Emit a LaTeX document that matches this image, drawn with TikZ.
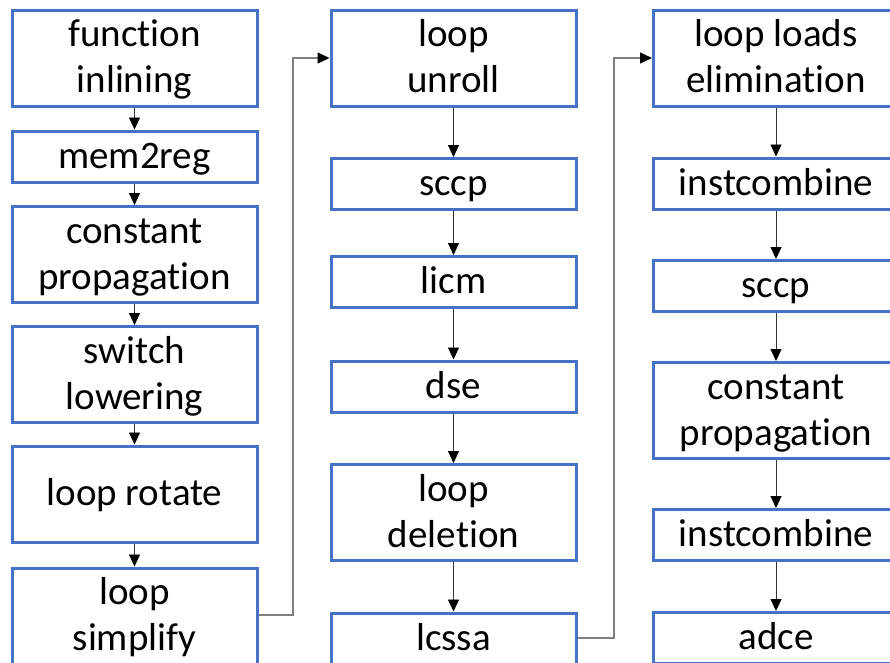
\documentclass[tikz,border=0pt]{standalone}
\usepackage{fontspec}
\setmainfont[Ligatures=CommonOff]{Carlito}
\usetikzlibrary{arrows.meta}
\definecolor{passblue}{HTML}{4472C4}
\definecolor{linkgray}{HTML}{7F7F7F}
% one text line with a fixed height and depth
\newcommand\pline[1]{\rule[-11pt]{0pt}{45pt}#1}
\tikzset{
  pass/.style={draw=passblue, line width=3pt, fill=white, minimum width=245pt,
    inner sep=0pt, align=center, font=\fontsize{39}{46}\selectfont, text=black},
  tall/.style={pass, minimum height=96pt},
  short/.style={pass, minimum height=51pt},
  flow/.style={draw=black!80, line width=0.9pt, -{Triangle[length=12pt,width=11pt,color=black]}},
  jump/.style={draw=linkgray, line width=1.2pt, -{Triangle[length=12pt,width=11pt,color=black]}}
}
\begin{document}
\begin{tikzpicture}[x=1pt,y=-1pt]
  \useasboundingbox (0,0) rectangle (890,662);
  \clip (0,0) rectangle (890,662);
  \fill[white] (0,0) rectangle (890,662);

  % first column
  \node[tall]  (fin) at (134.5,58)    {\pline{function}\\\pline{inlining}};
  \node[short] (m2r) at (134.5,156.5) {\pline{mem2reg}};
  \node[tall]  (cp1) at (134.5,254.5) {\pline{constant}\\\pline{propagation}};
  \node[tall]  (sl)  at (134.5,374.5) {\pline{switch}\\\pline{lowering}};
  \node[tall]  (lr)  at (134.5,494)   {\pline{loop rotate}};
  \node[tall]  (ls)  at (134.5,616)   {\pline{loop}\\\pline{simplify}};

  % second column
  \node[tall]  (lu)    at (453.5,58)    {\pline{loop}\\\pline{unroll}};
  \node[short] (sccpa) at (453.5,184)   {\pline{sccp}};
  \node[short] (licm)  at (453.5,282)   {\pline{licm}};
  \node[short] (dse)   at (453.5,386.5) {\pline{dse}};
  \node[tall]  (ld)    at (453.5,512.5) {\pline{loop}\\\pline{deletion}};
  \node[short] (lcssa) at (453.5,638.5) {\pline{lcssa}};

  % third column
  \node[tall]  (lle)   at (776,58)    {\pline{loop loads}\\\pline{elimination}};
  \node[short] (ica)   at (776,183.5) {\pline{instcombine}};
  \node[short] (sccpb) at (776,286)   {\pline{sccp}};
  \node[tall]  (cp2)   at (776,410.5) {\pline{constant}\\\pline{propagation}};
  \node[short] (icb)   at (776,535)   {\pline{instcombine}};
  \node[short] (adce)  at (776,638)   {\pline{adce}};

  % links inside each column
  \foreach \a/\b in {fin/m2r, m2r/cp1, cp1/sl, sl/lr, lr/ls,
                     lu/sccpa, sccpa/licm, licm/dse, dse/ld, ld/lcssa,
                     lle/ica, ica/sccpb, sccpb/cp2, cp2/icb, icb/adce}
    \draw[flow] (\a.south) -- (\b.north);

  % links between columns
  \coordinate (j1) at (293,615);
  \coordinate (j2) at (614,638);
  \draw[jump] (ls.east |- j1) -- (j1) |- (lu.west);
  \draw[jump] (lcssa.east |- j2) -- (j2) |- (lle.west);
\end{tikzpicture}
\end{document}
